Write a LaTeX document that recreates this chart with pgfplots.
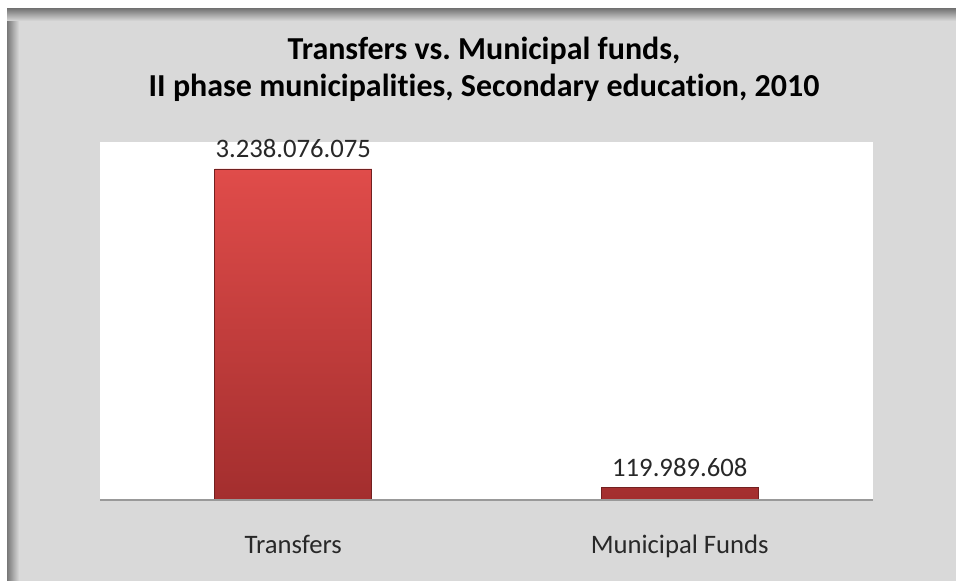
\documentclass[border=0pt]{standalone}
\usepackage{pgfplots}
\pgfplotsset{compat=1.18}
\usepackage{fontspec}
\setmainfont{Carlito}[Ligatures=NoCommon]
\definecolor{panel}{RGB}{217,217,217}
\definecolor{edge}{RGB}{120,120,120}
\definecolor{bartop}{RGB}{224,76,74}
\definecolor{barbot}{RGB}{163,46,46}
\definecolor{labtxt}{RGB}{40,40,40}
\begin{document}
\begin{tikzpicture}
% page and panel background
\fill[white] (0,0) rectangle (717pt,435.75pt);
\fill[panel] (5.25pt,0) rectangle (717pt,429pt);
\shade[left color=edge, right color=panel] (5.25pt,0) rectangle (14.25pt,429pt);
\shade[top color=edge, bottom color=panel] (5.25pt,420pt) rectangle (717pt,429pt);
\fill[white] (75pt,60.75pt) rectangle (654.75pt,329.25pt);
% title
\node[font=\fontsize{24}{28}\selectfont\bfseries, anchor=base] at (363pt,390.75pt)
  {Transfers vs.\ Municipal funds,};
\node[font=\fontsize{24}{28}\selectfont\bfseries, anchor=base] at (363pt,363pt)
  {II phase municipalities, Secondary education, 2010};
\begin{axis}[
  at={(75pt,60.75pt)}, anchor=south west,
  scale only axis, width=579.75pt, height=268.5pt,
  xmin=-0.5, xmax=1.5, ymin=0, ymax=3.5e9,
  ybar, bar width=117.75pt,
  axis lines=none,
  xtick=\empty, ytick=\empty,
  /pgf/number format/assume math mode=true,
  nodes near coords={\pgfmathprintnumber[fixed, precision=0, 1000 sep={.}, assume math mode=true]{\pgfplotspointmeta}},
  point meta=explicit,
  every node near coord/.append style={font=\fontsize{20}{24}\selectfont, text=labtxt, anchor=base, yshift=8.6pt},
  clip=false,
]
\addplot[draw=barbot!70!black, top color=bartop, bottom color=barbot, line width=0.4pt]
  coordinates {(0,3238076075)[3238076075] (1,119989608)[119989608]};
\draw[gray!80, line width=0.9pt] (axis cs:-0.5,0) -- (axis cs:1.5,0);
\node[font=\fontsize{20}{24}\selectfont, text=labtxt, anchor=base] at (axis cs:0,0) [yshift=-40pt] {Transfers};
\node[font=\fontsize{20}{24}\selectfont, text=labtxt, anchor=base] at (axis cs:1,0) [yshift=-40pt] {Municipal Funds};
\end{axis}
\end{tikzpicture}
\end{document}
